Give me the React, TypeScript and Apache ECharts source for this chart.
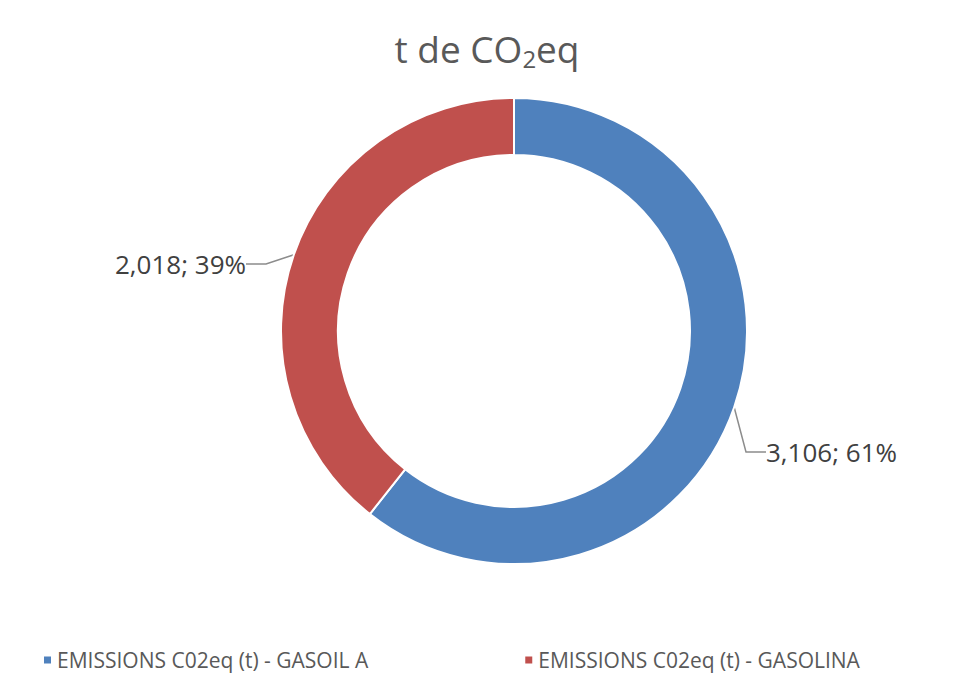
import React, { useEffect, useRef } from "react";
import * as echarts from "echarts";

const categories = ["EMISSIONS C02eq (t) - GASOIL A", "EMISSIONS C02eq (t) - GASOLINA"];
const values = [3106, 2018];
const colors = ["#4F81BD", "#C0504D"];

export default function App() {
  const ref = useRef<HTMLDivElement>(null);
  useEffect(() => {
    if (!ref.current) return;
    const chart = echarts.init(ref.current, null, { renderer: "svg" });
    const total = values.reduce((a, b) => a + b, 0);
    const font = "'Open Sans', sans-serif";
    chart.setOption({
      animation: false,
      backgroundColor: "#ffffff",
      title: {
        text: "{a|t de CO}{b|2}{a|eq}",
        left: "center",
        top: 14,
        textStyle: {
          fontWeight: "normal",
          rich: {
            a: { fontSize: 37, color: "#595959", fontFamily: font, fontWeight: "normal" },
            b: { fontSize: 24, color: "#595959", fontFamily: font, fontWeight: "normal", padding: [19, 0, 0, 0] },
          },
        },
      },
      legend: {
        top: 640,
        left: 34,
        padding: 0,
        icon: "rect",
        itemWidth: 9,
        itemHeight: 9,
        itemGap: 155,
        textStyle: { color: "#595959", fontSize: 21, fontFamily: font, lineHeight: 24 },
        data: categories,
      },
      series: [
        {
          type: "pie",
          center: [506, 323],
          radius: [176, 233],
          startAngle: 90,
          clockwise: true,
          itemStyle: { borderColor: "#ffffff", borderWidth: 2 },
          label: {
            show: true,
            color: "#404040",
            fontSize: 26,
            fontFamily: font,
            formatter: (p: any) =>
              p.value.toLocaleString("en-US") + "; " + Math.round((p.value / total) * 100) + "%",
          },
          labelLine: { show: true, lineStyle: { color: "#8c8c8c", width: 1.5 }, length: 20, length2: 20 },
          labelLayout: (params: any) => {
            if (params.dataIndex === 0) {
              return { x: 758, y: 444, align: "left", verticalAlign: "middle" };
            }
            return { x: 238, y: 256, align: "right", verticalAlign: "middle" };
          },
          data: categories.map((name, i) => ({
            name,
            value: values[i],
            itemStyle: { color: colors[i] },
          })),
        },
      ],
    });
    return () => chart.dispose();
  }, []);
  return <div ref={ref} style={{ width: 958, height: 666 }} />;
}
